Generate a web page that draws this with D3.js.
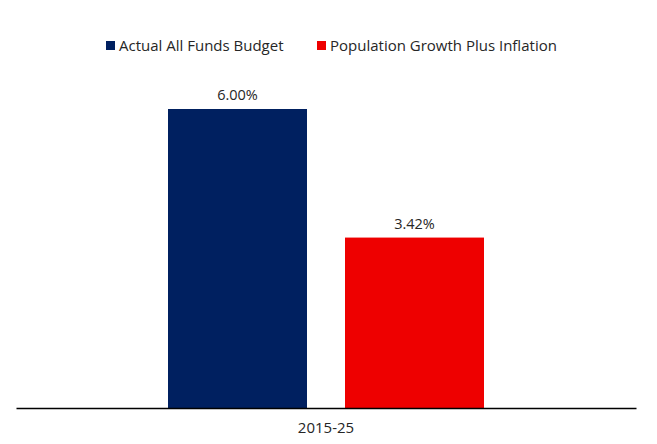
<!DOCTYPE html>
<html><head><meta charset="utf-8">
<script src="https://cdn.jsdelivr.net/npm/d3@7"></script>
<style>body{margin:0;background:#fff}text{font-family:"Open Sans","Liberation Sans",sans-serif}</style>
</head><body>
<svg id="c" width="657" height="444"></svg>
<script>
const categories = ["2015-25"];
const seriesNames = ["Actual All Funds Budget", "Population Growth Plus Inflation"];
const seriesValues = [6.00, 3.42];
const colors = ["#002060", "#EE0000"];

const svg = d3.select("#c");
const x0 = d3.scaleBand().domain(categories).range([16, 636]);
const x1 = d3.scaleBand().domain(seriesNames).range([0, x0.bandwidth()]).paddingInner(0.2147).paddingOuter(0.8588);
const y = d3.scaleLinear().domain([0, 6]).range([408, 109]);

const g = svg.append("g");
categories.forEach(cat => {
  seriesNames.forEach((s, i) => {
    const v = seriesValues[i];
    const bx = x0(cat) + x1(s);
    g.append("rect").attr("x", bx).attr("y", y(v)).attr("width", x1.bandwidth())
      .attr("height", y(0) - y(v)).attr("fill", colors[i]);
    g.append("text").attr("x", bx + x1.bandwidth() / 2).attr("y", y(v) - 9)
      .attr("text-anchor", "middle").attr("font-size", 14.5).attr("fill", "#262626")
      .text(v.toFixed(2) + "%");
  });
});

const xAxis = svg.append("g").attr("transform", "translate(0,408)")
  .call(d3.axisBottom(x0).tickSize(0).tickPadding(14));
xAxis.select(".domain").attr("stroke", "#000").attr("stroke-width", 1.3);
xAxis.selectAll("text").attr("font-size", 15).attr("fill", "#262626")
  .style("font-family", '"Open Sans","Liberation Sans",sans-serif');

const legendX = [106, 317];
seriesNames.forEach((s, i) => {
  const lg = svg.append("g").attr("transform", `translate(${legendX[i]},41)`);
  lg.append("rect").attr("width", 9).attr("height", 9).attr("fill", colors[i]);
  lg.append("text").attr("x", 13).attr("y", 10).attr("font-size", 15).attr("fill", "#262626").text(s);
});
</script>
</body></html>
